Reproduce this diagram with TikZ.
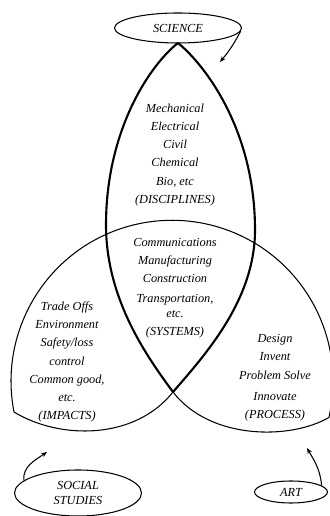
\documentclass[tikz,border=0pt]{standalone}
\usepackage{fontspec}
\setmainfont{Liberation Serif}
\usepackage{tikz}
\usetikzlibrary{arrows.meta,shapes.geometric}

\tikzset{
    label/.style={align=center,inner sep=0pt,font=\fontsize{10.5}{15.4}\selectfont\itshape},
    thinline/.style={draw=black,line width=0.9pt},
    lensline/.style={draw=black,line width=1.8pt,line join=round}
}

\begin{document}
\begin{tikzpicture}[x=0.03cm,y=0.03cm]
        \useasboundingbox (0,0) rectangle (329,516);

        % the three subject ovals
        \begin{scope}[every node/.style={ellipse,thinline,inner sep=0pt,align=center,
                font=\fontsize{10.5}{12.5}\selectfont\itshape}]
            \node[minimum width=3.81cm,minimum height=0.9cm] (science) at (178,488) {SCIENCE};
            \node[minimum width=3.81cm,minimum height=1.38cm] (social) at (78,23) {SOCIAL\\STUDIES};
            \node[minimum width=2.19cm,minimum height=0.66cm] (art) at (291,24) {ART};
        \end{scope}

        \coordinate (top) at (178,473);
        \coordinate (bottom) at (173,124);
        \coordinate (lcorner) at (14,104);
        \coordinate (scitip) at (220,454);
        \coordinate (soctip) at (47,64);
        \coordinate (arttip) at (307,68);

        % lower lobes
        \draw[thinline] (lcorner) arc[start angle=191,end angle=-13,radius=161]
            .. controls (290,76) and (210,76) .. (bottom)
            .. controls (135,76) and (60,76) .. cycle;

        % science lens
        \draw[lensline] (top) .. controls (150,451) and (106,386) .. (106,291)
            .. controls (106,216) and (148,158) .. (bottom);
        \draw[lensline] (top) .. controls (205,451) and (255,386) .. (255,286)
            .. controls (255,216) and (205,161) .. (bottom);

        \begin{scope}[every node/.style={label}]
            \node (disc) at (175,361) {Mechanical\\Electrical\\Civil\\Chemical\\Bio, etc\\(DISCIPLINES)};
            \node (sys) at (175,228) {Communications\\Manufacturing\\Construction\\[2pt]Transportation,\\[-3pt]etc.\\(SYSTEMS)};
            \node (imp) at (67,154) {Trade Offs\\Environment\\Safety/loss\\control\\Common good,\\etc.\\(IMPACTS)};
            \node (proc) at (275,138) {Design\\Invent\\Problem Solve\\[3pt]Innovate\\(PROCESS)};
        \end{scope}

        \begin{scope}[>={Stealth[length=5pt,width=4pt]},thinline]
            \draw[->] (science.-3) to[bend left=6] (scitip);
            \draw[->] (social.167) to[out=95,in=215] (soctip);
            \draw[->] (art.12) to[out=95,in=-60] (arttip);
        \end{scope}
    \end{tikzpicture}
\end{document}
